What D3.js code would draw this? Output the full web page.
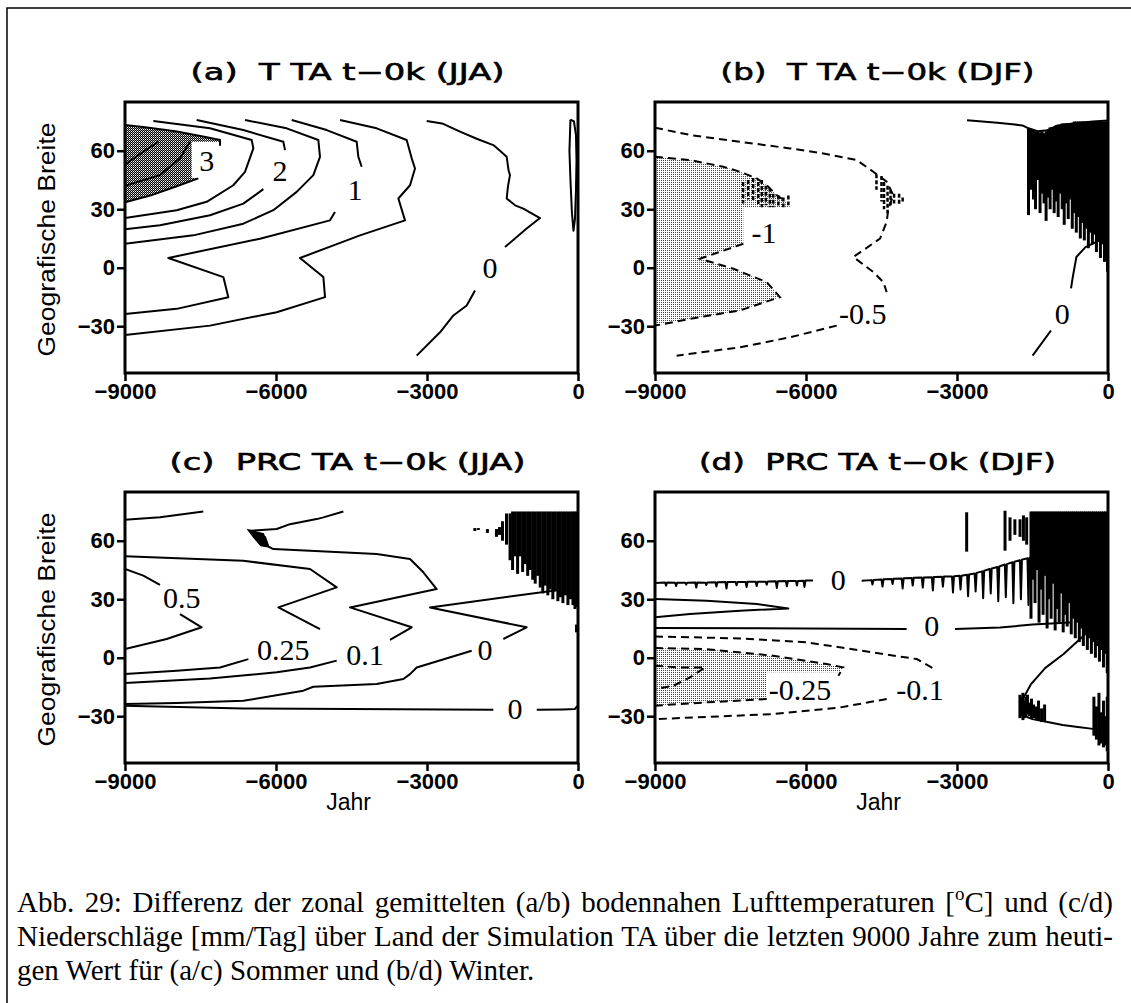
<!DOCTYPE html>
<html>
<head>
<meta charset="utf-8">
<script src="https://cdn.jsdelivr.net/npm/d3@7/dist/d3.min.js"></script>
<style>
body { margin: 0; background: #fff; }
</style>
</head>
<body>
<div id="figure"></div>
<script>
// Abb. 29 - zonal mean differences TA minus today, four contour panels
// all contour points are [year, latitude]

var yearTicks = [-9000, -6000, -3000, 0];
var latTicks = [-30, 0, 30, 60];
var titles = ["(a)  T TA t\u22120k (JJA)", "(b)  T TA t\u22120k (DJF)",
              "(c)  PRC TA t\u22120k (JJA)", "(d)  PRC TA t\u22120k (DJF)"];
var captionLines = [
    "Abb. 29: Differenz der zonal gemittelten (a/b) bodennahen Lufttemperaturen [|o|C] und (c/d)",
    "Niederschläge [mm/Tag] über Land der Simulation TA über die letzten 9000 Jahre zum heuti-",
    "gen Wert für (a/c) Sommer und (b/d) Winter."
];

// ---- (a) T JJA ----
var aShade3 = [[-9000,73.2],[-8600,72.0],[-8000,70.0],[-7400,67.0],[-7112,65.5],[-7112,64.6],[-7675,64.6],[-7675,46.2],[-7543,45.8],[-8000,41.5],[-8500,37.0],[-9000,33.6]];
var aC3Top = [[-9000,73.2],[-8600,72.0],[-8000,70.0],[-7400,67.0],[-7112,65.5],[-7112,62.5]];
var aC3Bot = [[-7543,45.8],[-8000,41.5],[-8500,37.0],[-9000,33.6]];
var aC35 = [[-9000,42.0],[-8305,47.5],[-7907,56.1],[-7709,64.6]];
var aC4 = [[-9000,53.0],[-8636,59.5],[-8338,64.6]];
var aC25 = [[-8437,75.3],[-7311,71.5],[-6483,65.5],[-6450,61.2],[-6616,49.2],[-6848,42.3],[-7377,33.8],[-7973,29.5],[-9000,25.5]];
var aC2Top = [[-7576,75.8],[-6649,70.6],[-5854,64.6],[-5821,60.3]];
var aC2Bot = [[-6251,40.3],[-6649,32.9],[-7311,26.9],[-8305,21.8],[-9000,19.7]];
var aC15 = [[-6616,75.8],[-5788,71.5],[-5159,65.5],[-5126,56.9],[-5258,47.5],[-5589,38.9],[-6053,29.5],[-6649,22.6],[-7642,16.6],[-9000,12.3]];
var aC1Top = [[-5688,75.8],[-4993,70.6],[-4397,64.6],[-4364,56.9],[-4298,51.8]];
var aC1Bot = [[-4828,28.6],[-4927,24.3],[-6318,14.9],[-8139,5.0],[-7046,-4.8],[-6947,-15.1],[-7973,-21.1],[-9000,-23.7]];
var aC05 = [[-4728,75.8],[-4000,71.5],[-3404,65.5],[-3304,56.1],[-3238,50.9],[-3337,42.3],[-3569,35.5],[-3437,24.3],[-4331,16.6],[-5523,5.0],[-5059,-4.8],[-5026,-15.1],[-5987,-22.8],[-7311,-29.7],[-9000,-34.5]];
var aC0Top = [[-3006,75.3],[-2700,74.0],[-2344,69.8],[-2000,66.0],[-1682,62.9],[-1550,60.0],[-1417,56.9],[-1380,50.0],[-1351,47.5],[-1390,42.0],[-1417,35.5],[-1250,32.0],[-1086,30.3],[-755,25.5],[-1020,20.1],[-1450,10.6]];
var aC0Bot = [[-2046,-11.7],[-2211,-19.4],[-2476,-24.5],[-2741,-33.1],[-3205,-45.1]];
var aLoop = [[-150,76],[-80,75],[-40,68],[-30,55],[-40,40],[-60,25],[-90,19],[-120,28],[-150,45],[-170,60],[-150,76]];
var aLabels = [["3",-7377,55],["2",-5920,50],["1",-4430,40],["0",-1748,0.3]];

// ---- (b) T DJF ----
var bShade1 = [[-9000,56.9],[-8305,55.2],[-7642,51.8],[-7311,49.2],[-6980,45.8],[-6781,42.3],[-6583,37.2],[-6384,33.8],[-6318,31.2],[-7245,31.2],[-7245,12.3],[-8106,4.6],[-7444,-0.5],[-6781,-7.4],[-6517,-15.1],[-7311,-21.9],[-8305,-26.2],[-9000,-29.7]];
var bC1Top = [[-9000,56.9],[-8305,55.2],[-7642,51.8],[-7311,49.2],[-6980,45.8],[-6781,42.3],[-6583,37.2],[-6384,33.8]];
var bC1Bot = [[-7245,12.3],[-8106,4.6],[-7444,-0.5],[-6781,-7.4],[-6517,-15.1],[-7311,-21.9],[-8305,-26.2],[-9000,-29.7]];
var bC05Top = [[-9000,71.8],[-8305,68.1],[-7311,64.6],[-6318,61.2],[-5655,58.6],[-4993,55.2],[-4662,49.2],[-4397,44.1],[-4265,37.2],[-4364,30.3],[-4397,23.5],[-4530,14.9],[-5059,5.5],[-4662,-2.2],[-4463,-7.4],[-4397,-12.5]];
var bC05Bot = [[-5390,-29.7],[-6318,-35.7],[-7311,-40.8],[-8570,-45.1]];
var bNoise = [[-7250,44,33],[-7150,45,35],[-7050,46,34],[-6950,44,32],[-6880,45,31],[-6800,42,32],[-6720,41,31],[-6650,38,31],[-6550,37,31],[-6450,36,31],[-6350,37,32],
              [-4600,48,40],[-4500,47,34],[-4450,44,30],[-4380,42,28],[-4320,40,32],[-4250,38,33],[-4150,38,32],[-4080,36,33]];
var bC0Top = [[-2800,75.6],[-2500,75.0],[-2200,74.3],[-1900,73.6],[-1700,73.0],[-1580,71.5],[-1400,70.0],[-1200,70.5],[-1000,73.0],[-700,74.0],[-300,75.0],[0,75.5]];
var bSpikes = [[-1580,71.5,27],[-1530,71,40],[-1480,70.5,35],[-1440,70,30],[-1400,70,45],[-1350,69.5,28],[-1310,70,38],[-1270,69,33],[-1230,70,24],[-1190,71,36],
               [-1150,72,30],[-1110,72,40],[-1070,72,28],[-1030,73,34],[-990,73,26],[-950,73,38],[-910,74,30],[-870,74,22],[-830,74,33],[-790,74,25],
               [-750,74,35],[-710,74,20],[-670,75,28],[-630,75,18],[-590,75,26],[-550,75,15],[-510,75,23],[-470,75,14],[-430,75,20],[-390,75,10],
               [-350,75,18],[-310,75,12],[-270,75,17],[-230,75,8],[-190,75,14],[-150,75,5],[-110,75,12],[-70,75,3],[-30,75,8],[-10,75,-2]];
var bC0Right = [[-20,15.8],[-447,10.6],[-628,5.5],[-700,-4.8],[-735,-10.6]];
var bC0Low = [[-1133,-32.2],[-1498,-45.1]];
var bLabels = [["-1",-6834,18.0],["-0.5",-4874,-23.7],["0",-910,-23.5]];

// ---- (c) PRC JJA ----
var cTop = [[-9000,70.8],[-8305,72.0],[-7444,75.0]];
var cC01 = [[-4662,75.0],[-5059,72.0],[-5192,71.1],[-5722,68.5],[-5987,66.0],[-6516,65.1],[-6220,62.0],[-6150,57.0],[-6053,55.7],[-5324,54.9],[-4000,53.2],[-3337,50.6],[-3072,43.8],[-2808,35.2],[-4530,25.8],[-3304,15.6],[-3735,9.2]];
var cC01Low = [[-4794,-1.5],[-5324,-5.0],[-5987,-7.5],[-7311,-10.6],[-9000,-13.0]];
var cBlob = [[-6550,65.5],[-6250,63.5],[-6180,57.0],[-6300,57.5],[-6450,62.0]];
var cC025 = [[-9000,52.0],[-6649,49.7],[-5324,45.5],[-4794,36.1],[-5953,25.8],[-5126,14.7]];
var cC025Low = [[-6549,-0.7],[-7112,-5.0],[-7973,-6.7],[-9000,-8.4]];
var cC05Top = [[-9000,45.5],[-8636,42.1],[-8305,37.4]];
var cC05Low = [[-7907,22.4],[-7477,15.6],[-8172,9.6],[-9000,4.4]];
var cC0Up = [[-450,34.5],[-755,33.5],[-2940,25.8],[-1020,15.6],[-1483,9.6]];
var cC0UpLow = [[-2112,3.6],[-3205,-5.0],[-3337,-8.4],[-3470,-10.9],[-4000,-13.5],[-5258,-14.9],[-5457,-16.9],[-6649,-22.1],[-7973,-23.2],[-9000,-23.8]];
var cC0Bot = [[-9000,-24.6],[-6649,-26.0],[-1682,-26.7]];
var cC0BotRight = [[-820,-26.7],[-300,-26.5],[-60,-26.3],[-20,-25.0],[0,-26.0],[0,-47.0]];
var cSpikes = [[-2050,66.5,65],[-1980,66.5,65.5],[-1800,66,64],[-1620,66,62],[-1560,67,63],[-1500,70,60],[-1420,74,58],[-1350,74,50],[-1300,75,45],[-1250,75,52],
               [-1200,75,43],[-1150,75,52],[-1100,75,44],[-1050,75,48],[-1000,75,42],[-950,75,45],[-900,75,40],[-850,75,38],[-800,75,42],[-750,75,36],
               [-700,75,33],[-650,75,37],[-600,75,32],[-550,75,35],[-500,75,30],[-450,75,34],[-400,75,29],[-350,75,31],[-300,75,28],[-250,75,32],
               [-200,75,27],[-150,75,30],[-100,75,27],[-60,75,25],[-20,75,26],[-30,17,13]];
var cLabels = [["0.5",-7874,30.9],["0.25",-5854,4.4],["0.1",-4232,1.9],["0",-1847,4.4],["0",-1251,-26.3]];

// ---- (d) PRC DJF ----
var dC0Up1 = [[-9000,38.3],[-8800,38.6],[-8780,37.0],[-8760,38.6],[-8600,38.4],[-8580,36.8],[-8560,38.5],[-8400,38.4],[-8380,37.5],[-8360,38.5],[-8200,38.6],[-8180,36.0],
              [-8160,38.6],[-8000,38.5],[-7980,37.3],[-7960,38.6],[-7800,38.7],[-7780,36.5],[-7760,38.7],[-7600,38.8],[-7580,35.5],[-7560,38.8],[-7400,38.8],[-7380,37.2],
              [-7360,38.8],[-7200,38.9],[-7180,36.2],[-7160,39.0],[-7000,39.0],[-6980,36.8],[-6960,39.0],[-6800,39.0],[-6780,37.5],[-6760,39.1],[-6600,39.2],[-6580,35.8],
              [-6560,39.2],[-6400,39.3],[-6380,36.6],[-6360,39.3],[-6200,39.4],[-6180,37.0],[-6160,39.4],[-6050,39.5],[-6030,36.3],[-6010,39.6],[-5860,39.6]];
var dC0Up2 = [[-4894,39.5],[-4700,39.8],[-4680,37.5],[-4660,39.9],[-4500,40.1],[-4480,36.5],[-4460,40.2],[-4300,40.4],[-4280,37.8],[-4260,40.5],[-4100,40.6],[-4080,35.5],
              [-4060,40.7],[-3900,40.9],[-3880,37.0],[-3860,41.0],[-3700,41.1],[-3680,36.0],[-3660,41.2],[-3500,41.3],[-3480,34.5],[-3460,41.4],[-3300,41.5],[-3280,36.5],
              [-3260,41.6],[-3100,41.7],[-3080,33.5],[-3060,41.8],[-2950,42.0],[-2930,35.0],[-2910,42.1],[-2800,42.5],[-2780,31.5],[-2760,42.7],[-2650,43.2],[-2630,34.0],
              [-2610,43.5],[-2500,44.3],[-2480,30.5],[-2460,44.6],[-2350,45.5],[-2330,33.0],[-2310,45.8],[-2200,46.5],[-2180,29.0],[-2160,46.8],[-2050,47.8],[-2030,31.0],
              [-2010,48.0],[-1900,49.0],[-1880,28.0],[-1860,49.2],[-1750,50.0],[-1730,30.0],[-1710,50.3],[-1600,51.0],[-1580,27.0],[-1560,51.2],[-1450,52.0],[-1200,52.5],[-755,53.0]];
var dTongue = [[-9000,30.1],[-7973,29.2],[-6980,27.5],[-6351,25.3],[-7311,24.1],[-8305,22.4],[-9000,20.7]];
var dC0Mid1 = [[-9000,15.2],[-6000,15.0],[-4000,14.7]];
var dC0Mid2 = [[-3040,14.7],[-2145,15.5],[-1500,17.0],[-755,18.1]];
var dC01Top = [[-9000,10.9],[-7311,9.9],[-5987,7.9],[-4662,2.7],[-3801,-0.7],[-3470,-5.5]];
var dC01Bot = [[-4397,-21.2],[-5324,-25.5],[-6649,-28.9],[-9000,-31.5]];
var dShade025 = [[-9000,5.0],[-7973,4.4],[-6649,1.0],[-5589,-3.2],[-5258,-5.0],[-5330,-7.5],[-6781,-7.5],[-6781,-21.2],[-7973,-22.9],[-9000,-24.6]];
var dC025Top = [[-9000,5.0],[-7973,4.4],[-6649,1.0],[-5589,-3.2],[-5258,-5.0],[-5357,-9.2]];
var dC025Bot = [[-6781,-21.2],[-7973,-22.9],[-9000,-24.6]];
var dC05 = [[-9000,-4.1],[-8503,-5.0],[-8007,-5.0],[-8305,-10.1],[-8636,-14.4],[-9000,-16.1]];
var dLinkLow = [[-447,12.2],[-882,1.9],[-1244,-5.2],[-1534,-13.7],[-1679,-20.6]];
var dC0South = [[-1750,-29.0],[-1500,-31.5],[-1200,-33.0],[-900,-34.5],[-600,-35.5],[-300,-36.5],[-20,-37.7]];
var dSpikes = [[-2808,74.6,54.4],[-2046,75.4,54.9],[-1947,72,60],[-1850,71,63],[-1748,71,62],[-1680,73,60],[-1616,72,58],
               [-1530,75,20],[-1490,75,40],[-1450,75,28],[-1410,75,45],[-1370,75,18],[-1330,75,35],[-1290,75,22],[-1250,75,42],[-1210,75,15],[-1170,75,30],
               [-1130,75,20],[-1090,75,38],[-1050,75,14],[-1010,75,25],[-970,75,18],[-930,75,33],[-890,75,13],[-850,75,22],[-810,75,16],[-770,75,28],
               [-730,75,12],[-690,75,20],[-650,75,10],[-610,75,18],[-570,75,8],[-530,75,15],[-490,75,6],[-450,75,12],[-410,75,4],[-370,75,10],
               [-330,75,2],[-290,75,8],[-250,75,0],[-210,75,6],[-170,75,-2],[-130,75,4],[-90,75,-5],[-50,75,2],[-15,75,-8],
               [-1750,-19,-31],[-1720,-20,-30],[-1690,-18,-32],[-1660,-22,-31],[-1630,-20,-30],[-1600,-19,-29],[-1560,-23,-30],[-1520,-21,-31],
               [-1480,-24,-31],[-1420,-25,-32],[-1380,-22,-32],[-1320,-26,-33],[-1260,-24,-33],
               [-280,-20,-40],[-230,-25,-42],[-180,-18,-45],[-130,-28,-44],[-90,-22,-46],[-50,-30,-45],[-15,-20,-48]];
var dLabels = [["0",-5357,40.3],["0",-3503,16.4],["-0.25",-6119,-16.1],["-0.1",-3735,-16.5]];

// ---- layout ----
var svgWidth = 1131;
var svgHeight = 1003;
var plotW = 453;
var plotH = 271;

var panels = [
    { id: "a", left: 125, top: 102, title: titles[0], titleW: 314, yLabel: true, xLabel: false,
      fills: [[aShade3, "stippleDark"]],
      solid: [aC3Top, aC3Bot, aC35, aC4, aC25, aC2Top, aC2Bot, aC15, aC1Top, aC1Bot, aC05, aC0Top, aC0Bot, aLoop],
      dashed: [], blobs: [], spikes: [], dashSpikes: [], labels: aLabels },
    { id: "b", left: 655, top: 102, title: titles[1], titleW: 314, yLabel: false, xLabel: false,
      fills: [[bShade1, "stippleLight"]],
      solid: [bC0Top, bC0Right, bC0Low],
      dashed: [bC1Top, bC1Bot, bC05Top, bC05Bot], blobs: [], spikes: bSpikes, dashSpikes: bNoise, labels: bLabels },
    { id: "c", left: 125, top: 492, title: titles[2], titleW: 356, yLabel: true, xLabel: true,
      fills: [],
      solid: [cTop, cC01, cC01Low, cC025, cC025Low, cC05Top, cC05Low, cC0Up, cC0UpLow, cC0Bot, cC0BotRight],
      dashed: [], blobs: [cBlob], spikes: cSpikes, dashSpikes: [], labels: cLabels },
    { id: "d", left: 655, top: 492, title: titles[3], titleW: 357, yLabel: false, xLabel: true,
      fills: [[dShade025, "stippleLight"]],
      solid: [dC0Up1, dC0Up2, dTongue, dC0Mid1, dC0Mid2, dLinkLow, dC0South],
      dashed: [dC01Top, dC01Bot, dC025Top, dC025Bot, dC05], blobs: [], spikes: dSpikes, dashSpikes: [], labels: dLabels }
];

var svg = d3.select("#figure")
    .append("svg")
    .attr("width", svgWidth)
    .attr("height", svgHeight)
    .style("display", "block");

// outer frame of the figure page
svg.append("rect")
    .attr("x", 7).attr("y", 8)
    .attr("width", 1300).attr("height", 1100)
    .attr("fill", "none")
    .attr("stroke", "#000")
    .attr("stroke-width", 1.5);

// stipple patterns for the shaded contour areas
var defs = svg.append("defs");
var dark = defs.append("pattern").attr("id", "stippleDark")
    .attr("width", 2).attr("height", 2).attr("patternUnits", "userSpaceOnUse");
dark.append("rect").attr("width", 2).attr("height", 2).attr("fill", "#fff");
dark.append("rect").attr("width", 1).attr("height", 1).attr("fill", "#000");
dark.append("rect").attr("x", 1).attr("y", 1).attr("width", 1).attr("height", 1).attr("fill", "#000");
dark.append("rect").attr("x", 1).attr("width", 1).attr("height", 1).attr("fill", "#999");
var light = defs.append("pattern").attr("id", "stippleLight")
    .attr("width", 2).attr("height", 2).attr("patternUnits", "userSpaceOnUse");
light.append("rect").attr("width", 2).attr("height", 2).attr("fill", "#fff");
light.append("rect").attr("width", 1).attr("height", 1).attr("fill", "#444");

var xScale = d3.scaleLinear().domain([-9000, 0]).range([0, plotW]);
var yScale = d3.scaleLinear().domain([-54, 85]).range([plotH, 0]);

var line = d3.line()
    .x(d => xScale(d[0]))
    .y(d => yScale(d[1]));

function minusFmt(d) {
    return d < 0 ? "\u2212" + Math.abs(d) : String(d);
}

panels.forEach(function (p) {
    var g = svg.append("g")
        .attr("transform", `translate(${p.left}, ${p.top})`);

    defs.append("clipPath").attr("id", "clip-" + p.id)
        .append("rect").attr("width", plotW).attr("height", plotH);

    var inner = g.append("g").attr("clip-path", `url(#clip-${p.id})`);

    // shaded areas
    p.fills.forEach(function (f) {
        inner.append("path")
            .attr("d", line(f[0]) + "Z")
            .attr("fill", `url(#${f[1]})`)
            .attr("stroke", "none");
    });

    // contour lines
    p.solid.forEach(function (pts) {
        inner.append("path")
            .attr("d", line(pts))
            .attr("fill", "none")
            .attr("stroke", "#000")
            .attr("stroke-width", 2)
            .attr("stroke-linejoin", "round");
    });
    p.dashed.forEach(function (pts) {
        inner.append("path")
            .attr("d", line(pts))
            .attr("fill", "none")
            .attr("stroke", "#000")
            .attr("stroke-width", 2)
            .attr("stroke-dasharray", "8,5");
    });
    p.blobs.forEach(function (pts) {
        inner.append("path")
            .attr("d", line(pts) + "Z")
            .attr("fill", "#000")
            .attr("stroke", "#000")
            .attr("stroke-width", 1.5);
    });

    // noisy contour segments drawn as short vertical strokes
    inner.selectAll(".spike")
        .data(p.spikes)
        .enter()
        .append("line")
        .attr("x1", d => xScale(d[0]))
        .attr("x2", d => xScale(d[0]))
        .attr("y1", d => yScale(d[1]))
        .attr("y2", d => yScale(d[2]))
        .attr("stroke", "#000")
        .attr("stroke-width", 3);
    inner.selectAll(".dspike")
        .data(p.dashSpikes)
        .enter()
        .append("line")
        .attr("x1", d => xScale(d[0]))
        .attr("x2", d => xScale(d[0]))
        .attr("y1", d => yScale(d[1]))
        .attr("y2", d => yScale(d[2]))
        .attr("stroke", "#000")
        .attr("stroke-width", 2.5)
        .attr("stroke-dasharray", "4,2");

    // contour labels
    inner.selectAll(".clabel")
        .data(p.labels)
        .enter()
        .append("text")
        .attr("x", d => xScale(d[1]))
        .attr("y", d => yScale(d[2]))
        .attr("dy", "0.35em")
        .attr("text-anchor", "middle")
        .attr("font-family", "'Liberation Serif', 'Times New Roman', serif")
        .attr("font-size", "30px")
        .attr("fill", "#000")
        .text(d => d[0]);

    // axes
    var leftAxis = d3.axisLeft(yScale).tickValues(latTicks).tickSize(8).tickPadding(2).tickFormat(minusFmt);
    var bottomAxis = d3.axisBottom(xScale).tickValues(yearTicks).tickSize(8).tickPadding(2).tickFormat(minusFmt);

    var ga = g.append("g").call(leftAxis);
    var gb = g.append("g").attr("transform", `translate(0, ${plotH})`).call(bottomAxis);
    [ga, gb].forEach(function (ax) {
        ax.select(".domain").remove();
        ax.selectAll(".tick line").attr("stroke-width", 2.5);
        ax.selectAll(".tick text")
            .attr("font-family", "'Liberation Sans', Arial, sans-serif")
            .attr("font-size", "22px")
            .attr("font-weight", "bold")
            .attr("fill", "#000");
    });

    // plot frame
    g.append("rect")
        .attr("width", plotW)
        .attr("height", plotH)
        .attr("fill", "none")
        .attr("stroke", "#000")
        .attr("stroke-width", 3);

    // panel title
    svg.append("text")
        .attr("x", p.left + plotW / 2 - 4)
        .attr("y", p.top - 22)
        .attr("text-anchor", "middle")
        .attr("font-family", "'DejaVu Sans', sans-serif")
        .attr("font-size", "23px")
        .attr("stroke", "#000")
        .attr("stroke-width", 0.6)
        .attr("textLength", p.titleW)
        .attr("lengthAdjust", "spacingAndGlyphs")
        .style("white-space", "pre")
        .text(p.title);

    if (p.yLabel) {
        svg.append("text")
            .attr("transform", `translate(55, ${p.top + plotH / 2 + 2}) rotate(-90)`)
            .attr("text-anchor", "middle")
            .attr("font-family", "'Liberation Sans', Arial, sans-serif")
            .attr("font-size", "23px")
            .attr("textLength", 234)
            .attr("lengthAdjust", "spacingAndGlyphs")
            .text("Geografische Breite");
    }
    if (p.xLabel) {
        svg.append("text")
            .attr("x", p.left + plotW / 2 - 3)
            .attr("y", 810)
            .attr("text-anchor", "middle")
            .attr("font-family", "'Liberation Sans', Arial, sans-serif")
            .attr("font-size", "23px")
            .text("Jahr");
    }
});

// caption, first two lines justified to the text block width
var capLeft = 17;
var capRight = 1113;
var capBase = [912, 946, 980];

captionLines.forEach(function (txt, i) {
    var t = svg.append("text")
        .attr("x", capLeft)
        .attr("y", capBase[i])
        .attr("font-family", "'Liberation Serif', 'Times New Roman', serif")
        .attr("font-size", "29px")
        .attr("fill", "#000");
    var parts = txt.split("|");
    if (parts.length === 3) {
        t.append("tspan").text(parts[0]);
        t.append("tspan").attr("dy", -12).attr("font-size", "19px").text(parts[1]);
        t.append("tspan").attr("dy", 12).text(parts[2]);
    } else {
        t.text(txt);
    }
    if (i < 2) {
        var natural = t.node().getComputedTextLength();
        var spaces = txt.split(" ").length - 1;
        var extra = (capRight - capLeft - natural) / spaces;
        t.attr("word-spacing", extra);
    }
});
</script>
</body>
</html>
